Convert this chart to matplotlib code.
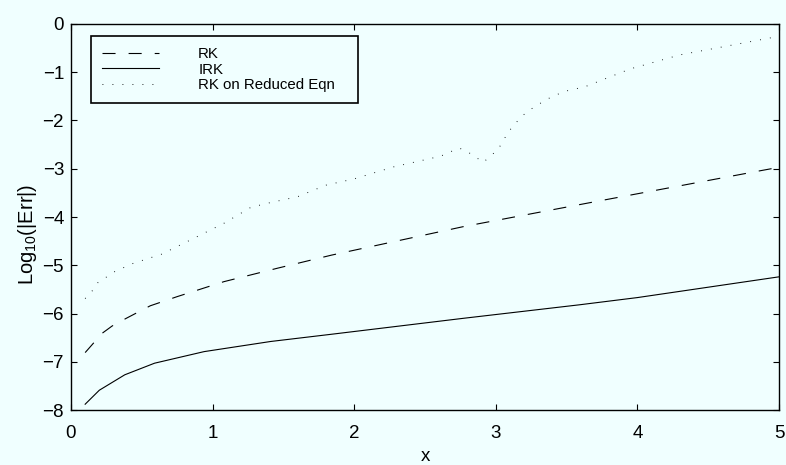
import numpy as np
from matplotlib import pyplot

# values
x_rk = [0.1, 0.22, 0.29, 0.39, 0.56, 0.75, 1.08, 1.46, 1.84, 2.77, 3.67, 4.87, 5.0]
y_rk = [-6.81, -6.41, -6.26, -6.10, -5.84, -5.65, -5.34, -5.06, -4.79, -4.20, -3.70, -3.04, -2.97]

x_irk = [0.1, 0.2, 0.38, 0.59, 0.94, 1.41, 1.84, 2.77, 3.59, 4.0, 5.0]
y_irk = [-7.88, -7.59, -7.27, -7.03, -6.79, -6.58, -6.43, -6.10, -5.82, -5.67, -5.24]

x_red = [0.1, 0.15, 0.19, 0.31, 0.44, 0.64, 0.82, 0.95, 1.08, 1.27, 1.41, 1.60, 1.80,
         2.0, 2.28, 2.61, 2.74, 2.79, 2.86, 2.91, 2.97, 3.02, 3.09, 3.18, 3.24, 3.36,
         3.48, 3.63, 3.95, 4.30, 4.99]
y_red = [-5.69, -5.53, -5.36, -5.13, -4.96, -4.77, -4.51, -4.32, -4.13, -3.80, -3.70, -3.58, -3.34,
         -3.21, -2.96, -2.74, -2.57, -2.63, -2.76, -2.87, -2.72, -2.58, -2.23, -1.92, -1.78, -1.56,
         -1.40, -1.30, -0.93, -0.64, -0.26]

legend_label = ['RK', 'IRK', 'RK on Reduced Eqn']
x_ticks = [0, 1, 2, 3, 4, 5]
y_ticks = [-8, -7, -6, -5, -4, -3, -2, -1, 0]

pyplot.rcParams['font.family'] = ['Liberation Sans', 'DejaVu Sans']
pyplot.rcParams['lines.scale_dashes'] = False
bg = '#f0ffff'

fig = pyplot.figure(figsize=(7.86, 4.65), dpi=100, facecolor=bg)
ax = fig.add_axes([71/786, 1 - 410/465, 708/786, 386/465], facecolor=bg)

ax.plot(x_rk, y_rk, color='black', linewidth=0.8, dashes=(9.4, 9.4), label=legend_label[0])
ax.plot(x_irk, y_irk, color='black', linewidth=0.8, label=legend_label[1])
ax.plot(x_red, y_red, color='black', linewidth=0.7, dashes=(0.6, 6.6), label=legend_label[2])

ax.set_xlim(0, 5)
ax.set_ylim(-8, 0)
ax.set_xticks(x_ticks)
ax.set_yticks(y_ticks)
ax.set_yticklabels([str(v).replace('-', '\u2212') for v in y_ticks])
ax.tick_params(direction='in', top=True, right=True, length=4.5, width=0.8, labelsize=13.5)
ax.tick_params(axis='x', pad=11)
ax.tick_params(axis='y', pad=5)
for spine in ax.spines.values():
    spine.set_linewidth(1.0)

ax.set_xlabel('x', fontsize=13.5, labelpad=4)
ax.set_ylabel(r'Log$_{\mathregular{10}}$(|Err|)', fontsize=14.5)
ax.yaxis.set_label_coords(-0.045, 0.455)

leg = ax.legend(loc='upper left', bbox_to_anchor=(0.0282, 0.803, 0.377, 0.166), mode='expand',
                borderaxespad=0, fontsize=10.8, handlelength=3.8, handletextpad=2.6,
                labelspacing=0.1, borderpad=0.75, fancybox=False, framealpha=1,
                facecolor=bg, edgecolor='black')
leg.get_frame().set_linewidth(1.2)

pyplot.savefig('out.png', dpi=100, facecolor=bg)
pyplot.close()
